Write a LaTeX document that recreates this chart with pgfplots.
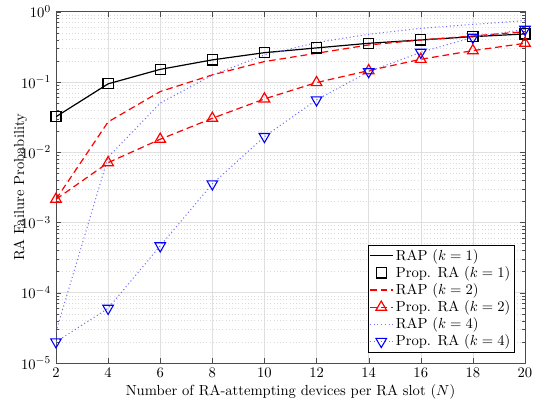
\documentclass[11pt,border=0pt]{standalone}
\usepackage{pgfplots}
\pgfplotsset{compat=1.18}
\definecolor{lblue}{rgb}{0.45,0.45,1}
\begin{document}
\begin{tikzpicture}
\begin{axis}[
  scale only axis,
  width=351.75pt, height=263.5pt,
  ymode=log,
  xmin=2, xmax=20, ymin=1e-5, ymax=1,
  xtick={2,4,...,20},
  ytick={1e-5,1e-4,1e-3,1e-2,1e-1,1},
  grid=both,
  major grid style={gray!25, line width=0.4pt},
  minor grid style={gray!30, dotted, line width=0.4pt},
  minor x tick num=0,
  axis line style={gray!60!black, line width=0.6pt},
  tick style={gray!60!black},
  major tick length=4pt, minor tick length=2pt,
  xlabel={Number of RA-attempting devices per RA slot ($N$)},
  ylabel={RA Failure Probability},
  xlabel style={yshift=2pt},
  ylabel style={yshift=-12pt},
  legend style={at={(0.978,0.03)}, anchor=south east, draw=black, line width=0.6pt, fill=white, inner sep=1pt, row sep=-1pt},
  legend cell align=left,
]
\addplot[color=black, solid, line width=0.9pt] coordinates {
(2,0.032) (4,0.094) (6,0.151) (8,0.206) (10,0.261) (12,0.305) (14,0.355) (16,0.396) (18,0.441) (20,0.482)};
\addlegendentry{RAP ($k=1$)}
\addplot[color=black, only marks, mark=square, mark size=3.8pt, line width=0.9pt] coordinates {
(2,0.032) (4,0.094) (6,0.151) (8,0.206) (10,0.261) (12,0.305) (14,0.355) (16,0.396) (18,0.441) (20,0.482)};
\addlegendentry{Prop. RA ($k=1$)}
\addplot[color=red, line width=0.9pt, dash pattern=on 5pt off 3pt] coordinates {
(2,0.00214) (4,0.027) (6,0.073) (8,0.126) (10,0.195) (12,0.256) (14,0.336) (16,0.396) (18,0.451) (20,0.52)};
\addlegendentry{RAP ($k=2$)}
\addplot[color=red, line width=0.9pt, dash pattern=on 5pt off 3pt, mark=triangle, mark size=4.6pt, mark options={solid}] coordinates {
(2,0.00214) (4,0.0071) (6,0.0153) (8,0.0304) (10,0.0573) (12,0.098) (14,0.145) (16,0.21) (18,0.279) (20,0.355)};
\addlegendentry{Prop. RA ($k=2$)}
\addplot[color=lblue, dotted, line width=0.8pt] coordinates {
(2,2.8e-5) (4,0.0085) (6,0.05) (8,0.125) (10,0.242) (12,0.363) (14,0.477) (16,0.58) (18,0.66) (20,0.745)};
\addlegendentry{RAP ($k=4$)}
\addplot[color=lblue, dotted, line width=0.8pt, mark=triangle, mark size=4.6pt, mark options={solid, draw=blue, rotate=180}] coordinates {
(2,2.0e-5) (4,6.0e-5) (6,4.65e-4) (8,0.00354) (10,0.0167) (12,0.0555) (14,0.14) (16,0.264) (18,0.432) (20,0.561)};
\addlegendentry{Prop. RA ($k=4$)}
\end{axis}
\pgfresetboundingbox
\path (-42pt,-28.5pt) rectangle (363pt,272.25pt);
\end{tikzpicture}
\end{document}
